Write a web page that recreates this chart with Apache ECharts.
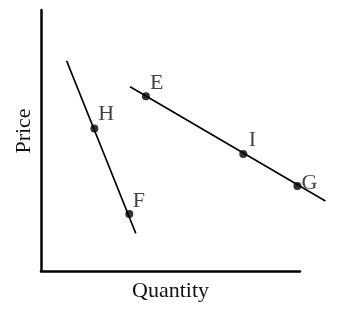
<!DOCTYPE html>
<html>
<head>
<meta charset="utf-8">
<script src="https://cdn.jsdelivr.net/npm/echarts@6/dist/echarts.min.js"></script>
<style>html,body{margin:0;padding:0;background:#fff;}#c{width:342px;height:310px;}</style>
</head>
<body>
<div id="c"></div>
<script>
// Steep line (through H and F): [quantity, price]
var steepLine = [[9.9, 80.5], [36.6, 14.4]];
// Flat line (through E, I, G)
var flatLine = [[34.4, 70.6], [109.8, 26.8]];
// Labelled points
var pointNames = ['H', 'F', 'E', 'I', 'G'];
var pointQty = [20.6, 34.1, 40.5, 78.1, 99.0];
var pointPrice = [54.6, 21.8, 67.0, 44.8, 32.6];
var axisNames = {x: 'Quantity', y: 'Price'};

// label offsets (style only)
var labelOffsets = {H: [4, -14.5], F: [3.5, -13], E: [4, -13], I: [5.5, -14], G: [4, -2.5]};

var font = 'Liberation Serif, Times New Roman, serif';
var pts = pointNames.map(function (n, i) {
  return {
    value: [pointQty[i], pointPrice[i]],
    name: n,
    label: {offset: labelOffsets[n]}
  };
});

// grid 0 shows the axes (x: 0..100); grid 1 carries the marks with the same scale,
// extended to the right so the flat line can run past the axis end.
var axisPx = 259;               // width of grid 0
var dataPx = 289;               // width of grid 1
var xMaxData = 100 * dataPx / axisPx;

var chart = echarts.init(document.getElementById('c'), null, {renderer: 'canvas'});
chart.setOption({
  animation: false,
  grid: [
    {left: 41, right: 42, top: 10, bottom: 39},
    {left: 41, right: 342 - 41 - dataPx, top: 10, bottom: 39}
  ],
  xAxis: [{
    gridIndex: 0, type: 'value', min: 0, max: 100,
    name: axisNames.x, nameLocation: 'middle', nameGap: 9,
    nameTextStyle: {fontFamily: font, fontSize: 22, color: '#111'},
    axisLine: {show: true, lineStyle: {color: '#000', width: 2.5}},
    axisTick: {show: false}, axisLabel: {show: false}, splitLine: {show: false}
  }, {
    gridIndex: 1, type: 'value', min: 0, max: xMaxData, show: false
  }],
  yAxis: [{
    gridIndex: 0, type: 'value', min: 0, max: 100,
    name: axisNames.y, nameLocation: 'middle', nameGap: 6,
    nameTextStyle: {fontFamily: font, fontSize: 22, color: '#111', padding: [0, 0, 0, 19]},
    axisLine: {show: true, lineStyle: {color: '#000', width: 2.5}},
    axisTick: {show: false}, axisLabel: {show: false}, splitLine: {show: false}
  }, {
    gridIndex: 1, type: 'value', min: 0, max: 100, show: false
  }],
  series: [
    {type: 'line', xAxisIndex: 1, yAxisIndex: 1, data: steepLine, clip: false, showSymbol: false, symbol: 'none',
     lineStyle: {color: '#000', width: 1.6}},
    {type: 'line', xAxisIndex: 1, yAxisIndex: 1, data: flatLine, clip: false, showSymbol: false, symbol: 'none',
     lineStyle: {color: '#000', width: 1.6}},
    {type: 'scatter', xAxisIndex: 1, yAxisIndex: 1, data: pts, clip: false, symbol: 'circle', symbolSize: 8,
     itemStyle: {color: '#000'},
     label: {show: true, position: 'inside', align: 'left', verticalAlign: 'middle',
       formatter: '{b}', fontFamily: font, fontSize: 22, color: '#111'}}
  ]
});
</script>
</body>
</html>
